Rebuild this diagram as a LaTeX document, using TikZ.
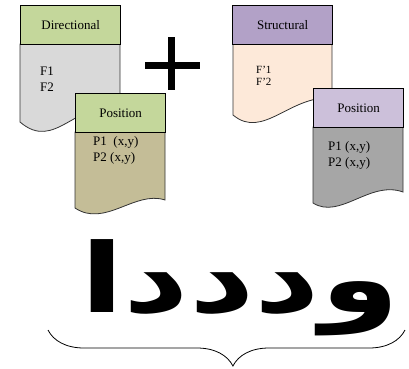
\documentclass[tikz,border=0pt]{standalone}
\usepackage{fontspec}
\usepackage{graphicx}
\setmainfont{Liberation Serif}
\newfontfamily\arabicfont[Script=Arabic]{DejaVu Sans}
\TeXXeTstate=1
\usetikzlibrary{decorations.pathreplacing}

\definecolor{hdrgreen}{HTML}{C4D79B}
\definecolor{bodygrey}{HTML}{D9D9D9}
\definecolor{bodytan}{HTML}{C4BD97}
\definecolor{hdrpurple}{HTML}{B2A1C7}
\definecolor{bodypeach}{HTML}{FDE9D9}
\definecolor{hdrlilac}{HTML}{CCC0DA}
\definecolor{bodydark}{HTML}{A6A6A6}

\tikzset{
  header/.style={draw, line width=1.3pt, minimum width=100pt, minimum height=39pt,
    inner sep=0pt, anchor=north west, font=\fontsize{13}{15}\selectfont},
  docbody/.style={draw=black!80, line width=0.8pt},
  items/.style={anchor=west, align=left, inner sep=0pt, font=\fontsize{13}{16}\selectfont},
}

\begin{document}
\begin{tikzpicture}[x=1pt,y=-1pt]
	\useasboundingbox (0,0) rectangle (409,368);

	% directional sheet
	\draw[docbody, fill=bodygrey] (20,44) -- (20,122)
	  .. controls (55,152) and (75,100) .. (120,108) -- (120,44) -- cycle;
	\node[header, fill=hdrgreen] (dir) at (20,5) {Directional};
	\node[items] (dirf) at (40,79) {F1\\F2};

	\draw[docbody, fill=bodytan] (75,132) -- (75,208)
	  .. controls (105,228) and (135,190) .. (165,200) -- (165,132) -- cycle;
	\node[header, fill=hdrgreen, minimum width=90pt] (posl) at (75,93) {Position};
	\node[items] (poslp) at (93,150) {P1~ (x,y)\\P2 (x,y)};

	% plus
	\draw[line width=7pt] (145,65.5) -- (200,65.5) (171.5,37) -- (171.5,90);

	% structural sheet
	\draw[docbody, fill=bodypeach] (233,44) -- (233,115)
	  .. controls (263,140) and (290,95) .. (332,98) -- (332,44) -- cycle;
	\node[header, fill=hdrpurple] (str) at (232,5) {Structural};
	\node[items, font=\fontsize{11}{12}\selectfont] (strf) at (256,76) {F’1\\F’2};

	\draw[docbody, fill=bodydark] (313,127) -- (313,203)
	  .. controls (340,220) and (370,180) .. (403,192) -- (403,127) -- cycle;
	\node[header, fill=hdrlilac, minimum width=90pt] (posr) at (313,88) {Position};
	\node[items] (posrp) at (328,155) {P1 (x,y)\\P2 (x,y)};

	% word and brace
	\node[inner sep=0pt, anchor=base] (word) at (240,312)
	  {\scalebox{1.33}[1]{\arabicfont\bfseries\fontsize{96}{96}\selectfont\beginR ودددا\endR}};
	\coordinate (braceL) at (48,330);
	\coordinate (braceR) at (405,330);
	\draw[decorate, decoration={brace, mirror, amplitude=36pt, aspect=0.518}, line width=0.8pt]
	  (braceL) -- (braceR);
\end{tikzpicture}
\end{document}
